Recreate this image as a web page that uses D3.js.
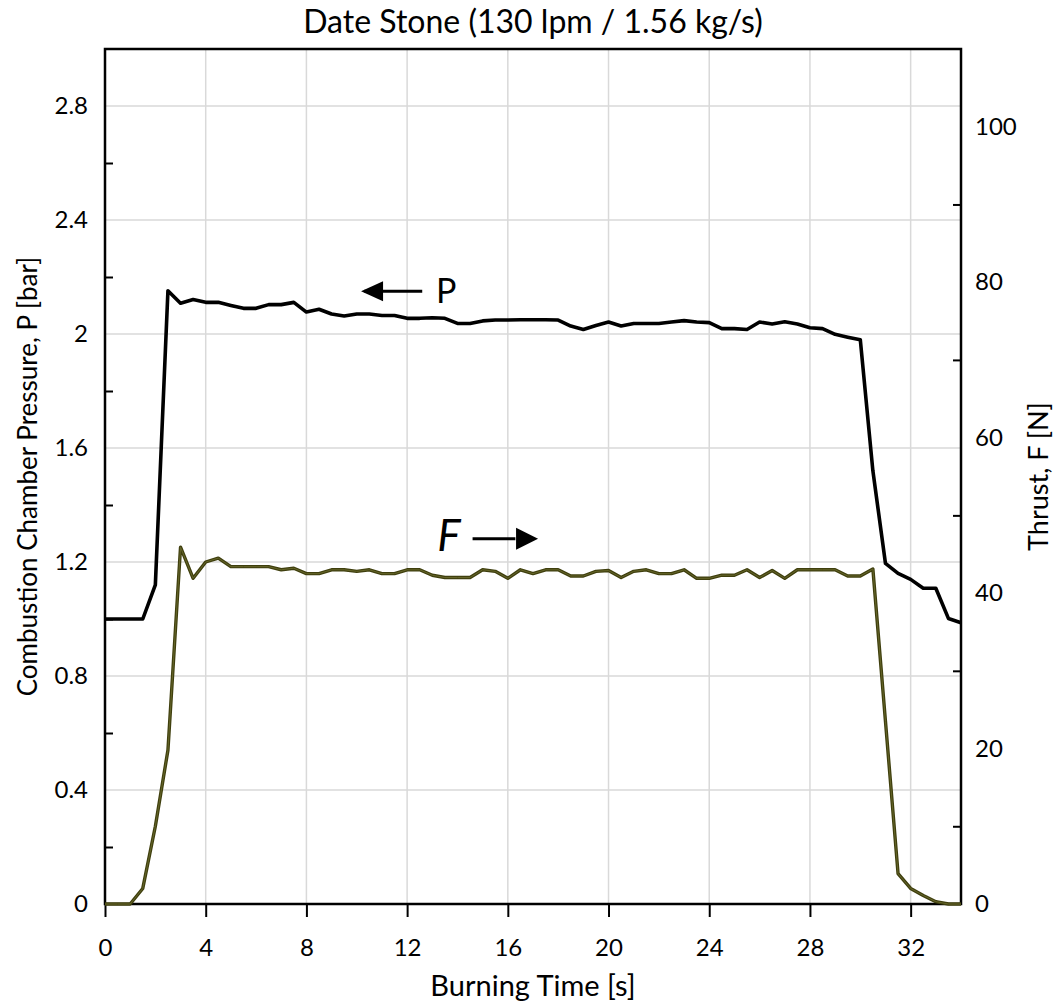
<!DOCTYPE html>
<html>
<head>
<meta charset="utf-8">
<script src="https://cdn.jsdelivr.net/npm/d3@7"></script>
<style>
  body { margin: 0; background: #fff; }
  text { font-family: Lato, "Noto Sans", sans-serif; fill: #000; }
</style>
</head>
<body>
<div id="chart"></div>
<script>
var w = 1063;
var h = 1003;
var marginLeft = 105;
var marginRight = 102;
var marginTop = 49;
var marginBottom = 99;

// burning time [s], one sample every half second
var times = [0, 0.5, 1, 1.5, 2, 2.5, 3, 3.5, 4, 4.5, 5, 5.5, 6, 6.5, 7, 7.5,
  8, 8.5, 9, 9.5, 10, 10.5, 11, 11.5, 12, 12.5, 13, 13.5, 14, 14.5, 15, 15.5,
  16, 16.5, 17, 17.5, 18, 18.5, 19, 19.5, 20, 20.5, 21, 21.5, 22, 22.5, 23, 23.5,
  24, 24.5, 25, 25.5, 26, 26.5, 27, 27.5, 28, 28.5, 29, 29.5, 30, 30.5, 31, 31.5,
  32, 32.5, 33, 33.5, 34];

// combustion chamber pressure [bar]
var pressure = [1.0, 1.0, 1.0, 1.0, 1.12, 2.152, 2.108, 2.121, 2.111, 2.111, 2.10, 2.09,
  2.09, 2.103, 2.103, 2.111, 2.077, 2.087, 2.07, 2.063, 2.07, 2.07, 2.065, 2.065,
  2.055, 2.055, 2.057, 2.055, 2.037, 2.037, 2.046, 2.049, 2.049, 2.05, 2.05, 2.05,
  2.049, 2.028, 2.016, 2.030, 2.042, 2.028, 2.037, 2.037, 2.037, 2.042, 2.047, 2.042,
  2.04, 2.019, 2.019, 2.016, 2.042, 2.035, 2.043, 2.035, 2.022, 2.019, 1.999, 1.989,
  1.980, 1.52, 1.195, 1.16, 1.139, 1.108, 1.108, 1.002, 0.987];

// thrust [N]
var thrust = [0, 0, 0, 2.0, 10, 19.8, 45.9, 41.9, 44.0, 44.5, 43.4, 43.4,
  43.4, 43.4, 43.0, 43.2, 42.5, 42.5, 43.0, 43.0, 42.8, 43.0, 42.5, 42.5,
  43.0, 43.0, 42.3, 42.0, 42.0, 42.0, 43.0, 42.8, 41.9, 43.0, 42.5, 43.0,
  43.0, 42.2, 42.2, 42.8, 42.9, 42.0, 42.8, 43.0, 42.5, 42.5, 43.0, 41.9,
  41.9, 42.3, 42.3, 43.0, 42.0, 42.9, 41.9, 43.0, 43.0, 43.0, 43.0, 42.2,
  42.2, 43.1, 23.5, 3.9, 2.0, 1.1, 0.3, 0, 0];

var timeTicks = [0, 4, 8, 12, 16, 20, 24, 28, 32];
var pressureTicks = [0, 0.4, 0.8, 1.2, 1.6, 2, 2.4, 2.8];
var pressureMinor = [0.2, 0.6, 1.0, 1.4, 1.8, 2.2, 2.6];
var thrustTicks = [0, 20, 40, 60, 80, 100];
var thrustMinor = [10, 30, 50, 70, 90];

function
initializeChart()
{
  var svg = d3.select("#chart")
    .append("svg:svg")
    .attr("width", w)
    .attr("height", h);

  var x = d3.scaleLinear().domain([0, 34]).range([marginLeft, w - marginRight]);
  var yP = d3.scaleLinear().domain([0, 3]).range([h - marginBottom, marginTop]);
  var yF = d3.scaleLinear().domain([0, 110]).range([h - marginBottom, marginTop]);

  // grid
  svg.append("g").selectAll("line")
    .data(timeTicks.slice(1))
    .enter().append("line")
    .attr("x1", function(d) { return x(d); })
    .attr("x2", function(d) { return x(d); })
    .attr("y1", yP(3)).attr("y2", yP(0))
    .attr("stroke", "#d9d9d9").attr("stroke-width", 1.5);

  svg.append("g").selectAll("line")
    .data(pressureTicks.slice(1))
    .enter().append("line")
    .attr("x1", x(0)).attr("x2", x(34))
    .attr("y1", function(d) { return yP(d); })
    .attr("y2", function(d) { return yP(d); })
    .attr("stroke", "#d9d9d9").attr("stroke-width", 1.5);

  // axes
  var bottomAxis = d3.axisBottom(x).tickValues(timeTicks).tickSize(13).tickPadding(22)
    .tickFormat(d3.format("d"));
  var gx = svg.append("g")
    .attr("transform", "translate(0," + yP(0) + ")")
    .call(bottomAxis);

  var leftAxis = d3.axisLeft(yP).tickValues(pressureTicks).tickSize(0).tickPadding(17)
    .tickFormat(function(d) { return d3.format("")(+d.toFixed(1)); });
  var gl = svg.append("g")
    .attr("transform", "translate(" + x(0) + ",0)")
    .call(leftAxis);

  var gl2 = svg.append("g")
    .attr("transform", "translate(" + x(0) + ",0)")
    .call(d3.axisRight(yP).tickValues(pressureMinor).tickSize(8).tickFormat(""));

  var rightAxis = d3.axisRight(yF).tickValues(thrustTicks).tickSize(0).tickPadding(14);
  var gr = svg.append("g")
    .attr("transform", "translate(" + x(34) + ",0)")
    .call(rightAxis);

  var gr2 = svg.append("g")
    .attr("transform", "translate(" + x(34) + ",0)")
    .call(d3.axisLeft(yF).tickValues(thrustMinor).tickSize(8).tickFormat(""));

  [gx, gl, gl2, gr, gr2].forEach(function(g) {
    g.selectAll(".domain").remove();
    g.selectAll(".tick line").attr("stroke", "#000").attr("stroke-width", 2);
    g.selectAll(".tick text").style("font-size", "24px").attr("fill", "#000");
  });

  // frame
  svg.append("rect")
    .attr("x", x(0)).attr("y", yP(3))
    .attr("width", x(34) - x(0)).attr("height", yP(0) - yP(3))
    .attr("fill", "none").attr("stroke", "#000").attr("stroke-width", 2.5);

  // series
  var lineP = d3.line()
    .x(function(d, i) { return x(times[i]); })
    .y(function(d) { return yP(d); });
  var lineF = d3.line()
    .x(function(d, i) { return x(times[i]); })
    .y(function(d) { return yF(d); });

  svg.append("path")
    .attr("d", lineF(thrust))
    .attr("fill", "none").attr("stroke", "#3f3f0e").attr("stroke-width", 3.4)
    .attr("stroke-linejoin", "round");
  svg.append("path")
    .attr("d", lineF(thrust))
    .attr("fill", "none").attr("stroke", "#66662a").attr("stroke-width", 1)
    .attr("stroke-linejoin", "round");

  svg.append("path")
    .attr("d", lineP(pressure))
    .attr("fill", "none").attr("stroke", "#000").attr("stroke-width", 3.6)
    .attr("stroke-linejoin", "round");

  // annotations
  svg.append("line")
    .attr("x1", x(10.3)).attr("x2", x(12.6))
    .attr("y1", yP(2.15)).attr("y2", yP(2.15))
    .attr("stroke", "#000").attr("stroke-width", 3);
  svg.append("path")
    .attr("d", "M " + x(10.17) + " " + yP(2.15) + " l 22 -10 l 0 20 z")
    .attr("fill", "#000");
  svg.append("text")
    .attr("x", x(13.15)).attr("y", yP(2.15) + 12)
    .style("font-size", "34px")
    .text("P");

  svg.append("line")
    .attr("x1", x(14.6)).attr("x2", x(16.3))
    .attr("y1", yF(47)).attr("y2", yF(47))
    .attr("stroke", "#000").attr("stroke-width", 3);
  svg.append("path")
    .attr("d", "M " + x(17.2) + " " + yF(47) + " l -22 -11 l 0 22 z")
    .attr("fill", "#000");
  svg.append("text")
    .attr("x", x(13.2)).attr("y", yF(47) + 12)
    .style("font-size", "44px").style("font-style", "italic")
    .text("F");

  // titles
  svg.append("text")
    .attr("x", (x(0) + x(34)) / 2).attr("y", 33)
    .attr("text-anchor", "middle")
    .style("font-size", "32px")
    .text("Date Stone (130 lpm / 1.56 kg/s)");

  svg.append("text")
    .attr("x", (x(0) + x(34)) / 2).attr("y", 996)
    .attr("text-anchor", "middle")
    .style("font-size", "29px")
    .text("Burning Time [s]");

  svg.append("text")
    .attr("transform", "translate(37," + (yP(0) + yP(3)) / 2 + ") rotate(-90)")
    .attr("text-anchor", "middle")
    .style("font-size", "26px")
    .text("Combustion Chamber Pressure, P [bar]");

  svg.append("text")
    .attr("transform", "translate(1048," + (yP(0) + yP(3)) / 2 + ") rotate(-90)")
    .attr("text-anchor", "middle")
    .style("font-size", "27px")
    .text("Thrust, F [N]");
}

initializeChart();
</script>
</body>
</html>
